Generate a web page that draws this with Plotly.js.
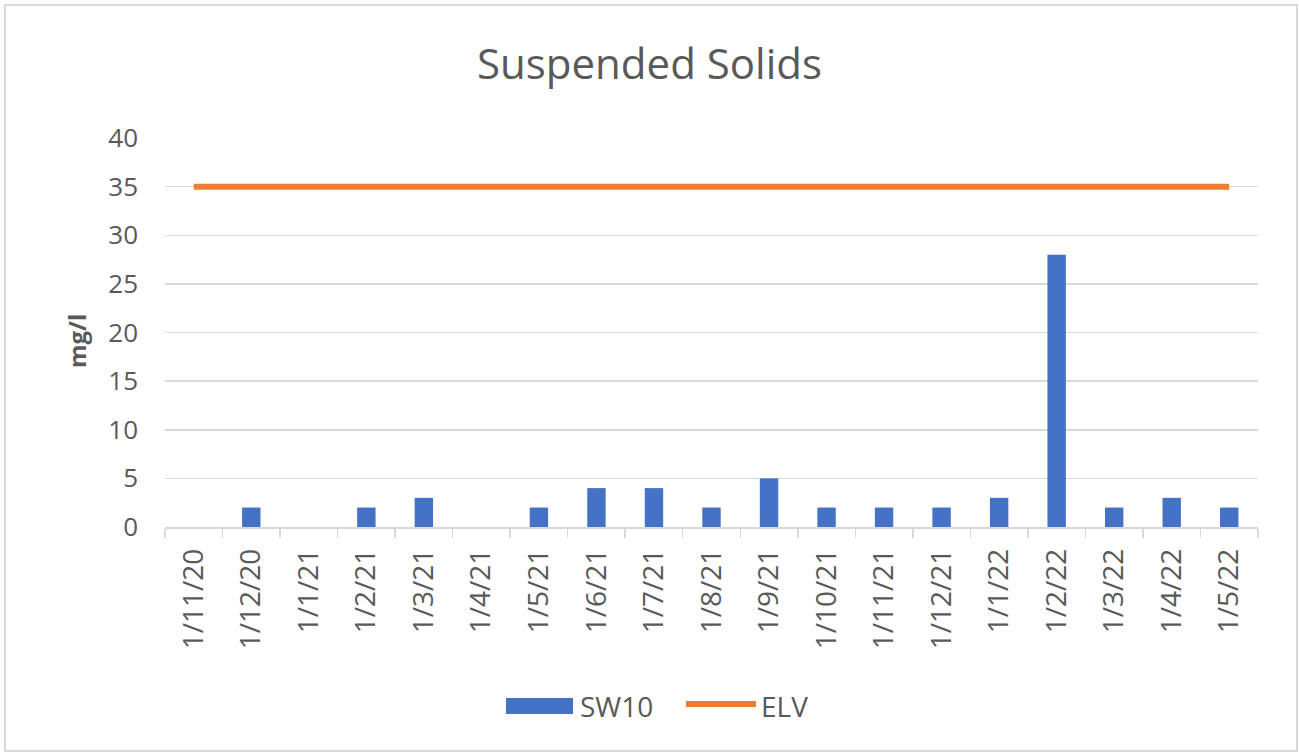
<!DOCTYPE html>
<html>
<head>
<meta charset="utf-8">
<script src="https://cdn.plot.ly/plotly-3.0.1.min.js"></script>
<style>
html,body{margin:0;padding:0;background:#fff;}
#wrap{position:relative;width:1299px;height:755px;}
#chart{width:1299px;height:755px;}
#frame{position:absolute;left:4px;top:4px;width:1290px;height:744px;border:2px solid #d9d9d9;pointer-events:none;}
</style>
</head>
<body>
<div id="wrap"><div id="chart"></div><div id="frame"></div></div>
<script>
const categories = ["1/11/20","1/12/20","1/1/21","1/2/21","1/3/21","1/4/21","1/5/21","1/6/21","1/7/21","1/8/21","1/9/21","1/10/21","1/11/21","1/12/21","1/1/22","1/2/22","1/3/22","1/4/22","1/5/22"];
const sw10 = [null,2,null,2,3,null,2,4,4,2,5,2,2,2,3,28,2,3,2];
const elv = [35,35,35,35,35,35,35,35,35,35,35,35,35,35,35,35,35,35,35];
const yTicks = [0,5,10,15,20,25,30,35,40];

const font = "'Open Sans', 'Segoe UI', sans-serif";
const grey = "#595959";
const L = 165, R = 1258, T = 138, B = 527;
const px = x => (x - L) / (R - L);
const py = y => (B - y) / (B - T);

const traces = [
  {type:"bar", x:categories, y:sw10, name:"SW10", marker:{color:"#4472C4"}, showlegend:false},
  {type:"scatter", mode:"lines", x:categories, y:elv, name:"ELV", line:{color:"#ED7D31", width:6}, showlegend:false}
];

const layout = {
  width:1299, height:755,
  margin:{l:L, r:1299-R, t:T, b:755-B},
  paper_bgcolor:"#fff", plot_bgcolor:"#fff",
  bargap:0.68,
  title:{text:"Suspended Solids", font:{family:font, size:42, color:grey}, x:0.5, xanchor:"center", y:1-64/755, yanchor:"middle"},
  xaxis:{type:"category", tickangle:-90, tickfont:{family:font, size:28, color:grey},
    showline:true, linecolor:"#d9d9d9", linewidth:1.5, ticks:"outside", tickson:"boundaries",
    ticklen:9, tickcolor:"#d9d9d9", tickwidth:1.5, showgrid:false, fixedrange:true, ticklabelstandoff:9},
  yaxis:{range:[0,40], tickvals:yTicks, ticktext:yTicks.map(String), tickfont:{family:font, size:26, color:grey},
    showgrid:true, gridcolor:"#d9d9d9", gridwidth:1.5, zeroline:false, showline:false, ticks:"", ticklabelstandoff:26},
  shapes:[
    {type:"rect", xref:"paper", yref:"paper", x0:px(506), x1:px(573), y0:py(714), y1:py(698), fillcolor:"#4472C4", line:{width:0}},
    {type:"line", xref:"paper", yref:"paper", x0:px(686), x1:px(756), y0:py(704), y1:py(704), line:{color:"#ED7D31", width:6}}
  ],
  annotations:[
    {xref:"paper", yref:"paper", x:px(76), y:py(341), xanchor:"center", yanchor:"middle", textangle:-90, text:"<b>mg/l</b>", showarrow:false, font:{family:font, size:24, color:grey}},
    {xref:"paper", yref:"paper", x:px(578), y:py(706), xanchor:"left", yanchor:"middle", text:"SW10", showarrow:false, font:{family:font, size:28, color:grey}},
    {xref:"paper", yref:"paper", x:px(759), y:py(706), xanchor:"left", yanchor:"middle", text:"ELV", showarrow:false, font:{family:font, size:28, color:grey}}
  ]
};
Plotly.newPlot("chart", traces, layout, {displayModeBar:false, staticPlot:true});
</script>
</body>
</html>
